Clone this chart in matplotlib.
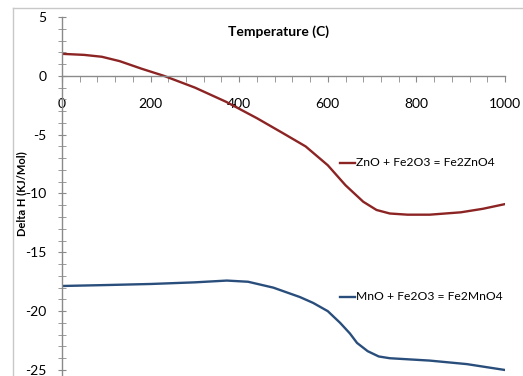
import matplotlib
matplotlib.use("Agg")
import matplotlib.pyplot as plt
from matplotlib.ticker import MultipleLocator
from matplotlib.lines import Line2D

plt.rcParams['font.family'] = ['Lato', 'DejaVu Sans']
plt.rcParams['axes.unicode_minus'] = False

temp_zn = [0, 50, 90, 130, 180, 230, 300, 370, 440, 500, 550, 600, 640, 680, 710, 740, 780, 830, 900, 950, 1000]
dh_zn = [1.87, 1.78, 1.62, 1.25, 0.6, 0.0, -1.0, -2.2, -3.6, -4.9, -6.0, -7.6, -9.3, -10.7, -11.4, -11.7, -11.8, -11.8, -11.6, -11.3, -10.9]

temp_mn = [0, 100, 200, 300, 372, 420, 477, 537, 567, 600, 628, 650, 666, 690, 715, 740, 830, 914, 1000]
dh_mn = [-17.86, -17.78, -17.69, -17.55, -17.4, -17.5, -18.0, -18.8, -19.3, -20.0, -21.0, -21.9, -22.7, -23.4, -23.85, -24.0, -24.2, -24.5, -25.0]

label_zn = "ZnO + Fe2O3 = Fe2ZnO4"
label_mn = "MnO + Fe2O3 = Fe2MnO4"
x_label = "Temperature (C)"
y_label = "Delta H (KJ/Mol)"

W, H = 523, 376
fig = plt.figure(figsize=(W / 100, H / 100), dpi=100)

# outer chart frame (light gray)
fig.add_artist(Line2D([13 / W, 13 / W], [0, 1 - 8 / H], color="#c8c8c8", lw=1.0))
fig.add_artist(Line2D([13 / W, 1], [1 - 8 / H, 1 - 8 / H], color="#c8c8c8", lw=1.0))

px_per_unit = (370 - 17) / 30.0
y_bottom = -25 - (376 - 370) / px_per_unit
ax = fig.add_axes([62 / W, 0, (505 - 62) / W, (376 - 17) / H])
ax.set_xlim(0, 1000)
ax.set_ylim(y_bottom, 5)

red = "#8c2424"
blue = "#2a4e7c"
ax.plot(temp_zn, dh_zn, color=red, lw=1.7, solid_capstyle="round", solid_joinstyle="round")
ax.plot(temp_mn, dh_mn, color=blue, lw=1.7, solid_capstyle="round", solid_joinstyle="round")

for s in ["top", "right"]:
    ax.spines[s].set_visible(False)
ax.spines["bottom"].set_position(("data", 0))
ax.spines["left"].set_position(("data", 0))
for s in ["bottom", "left"]:
    ax.spines[s].set_color("#8a8a8a")
    ax.spines[s].set_linewidth(1.0)

ax.xaxis.set_major_locator(MultipleLocator(200))
ax.xaxis.set_minor_locator(MultipleLocator(40))
ax.yaxis.set_major_locator(MultipleLocator(5))
ax.yaxis.set_minor_locator(MultipleLocator(1))

ax.tick_params(axis="x", which="both", direction="out", length=4, color="#8a8a8a",
               labelsize=10, pad=12)
ax.tick_params(axis="y", which="both", direction="inout", length=6, color="#8a8a8a",
               labelsize=10, pad=8)

fig.text(278 / W, 1 - 32 / H, x_label, ha="center", va="center", fontsize=10, fontweight="bold")
fig.text(22 / W, 1 - 194 / H, y_label, rotation=90, ha="center", va="center",
         fontsize=8, fontweight="bold")

# inline legend entries
def legend_entry(xpix, ypix, color, text):
    yv = 5 - (ypix - 17) / px_per_unit
    x0 = (xpix - 62) / 0.443
    x1 = (xpix + 15 - 62) / 0.443
    ax.plot([x0, x1], [yv, yv], color=color, lw=1.7)
    ax.text(x1 + 2, yv, text, ha="left", va="center", fontsize=8.7)

legend_entry(340, 163, red, label_zn)
legend_entry(340, 297, blue, label_mn)

fig.savefig("out.png", dpi=100)
